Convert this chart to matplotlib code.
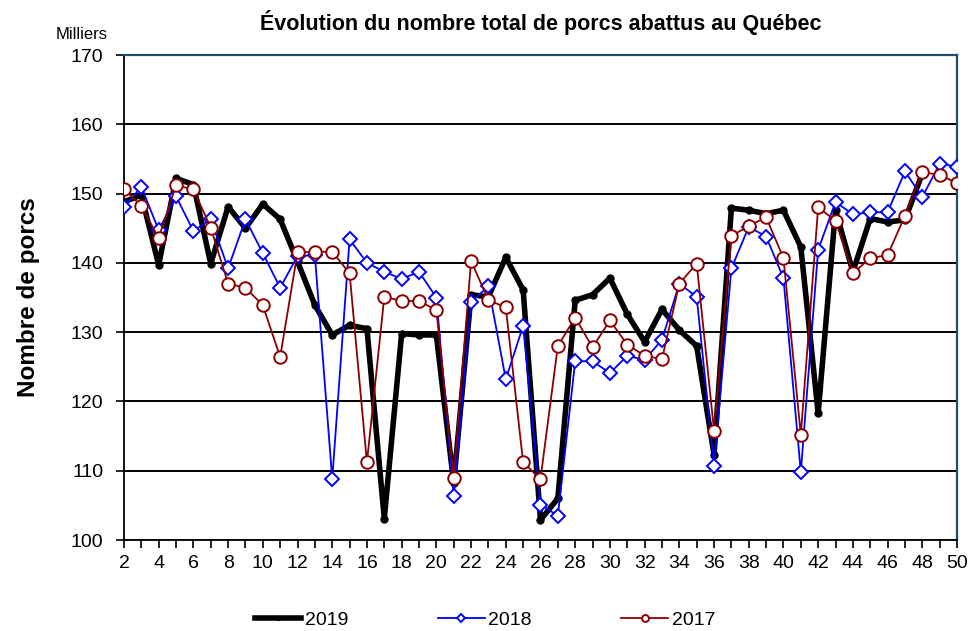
import numpy as np
import matplotlib.pyplot as plt

plt.rcParams['font.family'] = ['Liberation Sans', 'DejaVu Sans']

# semaines
sem = list(range(2, 51))

# 2019 (semaines 2 a 48)
v2019 = [148.8, 149.8, 139.7, 152.2, 151.3, 139.9, 148.1, 145.0, 148.5, 146.3,
         140.2, 133.9, 129.6, 131.0, 130.5, 103.1, 129.8, 129.6, 129.6, 108.2,
         135.4, 135.1, 140.8, 136.1, 102.9, 106.0, 134.6, 135.4, 137.8, 132.6,
         128.6, 133.3, 130.3, 128.0, 112.3, 147.9, 147.6, 147.1, 147.6, 142.3,
         118.3, 147.6, 138.7, 146.4, 145.9, 146.2, 152.9]

v2018 = [148.0, 151.0, 144.7, 149.6, 144.6, 146.3, 139.2, 146.3, 141.4, 136.4,
         141.0, 141.1, 108.8, 143.4, 140.0, 138.7, 137.7, 138.7, 135.0, 106.3,
         134.4, 136.6, 123.2, 130.9, 105.1, 103.5, 125.8, 125.8, 124.1, 126.6,
         126.0, 128.9, 137.0, 135.1, 110.7, 139.2, 145.2, 143.8, 137.8, 109.8,
         141.9, 148.8, 147.0, 147.3, 147.3, 153.2, 149.5, 154.3, 153.9]

v2017 = [150.7, 148.2, 143.6, 151.2, 150.6, 145.1, 137.0, 136.4, 133.9, 126.4,
         141.5, 141.6, 141.6, 138.5, 111.2, 135.1, 134.5, 134.5, 133.2, 109.0,
         140.3, 134.6, 133.6, 111.2, 108.8, 128.0, 132.1, 127.8, 131.7, 128.2,
         126.6, 126.1, 137.0, 139.9, 115.8, 143.9, 145.3, 146.6, 140.7, 115.2,
         148.0, 146.1, 138.5, 140.7, 141.1, 146.8, 153.1, 152.7, 151.5]

fig = plt.figure(figsize=(9.7, 6.31), dpi=100)
ax = fig.add_axes([0.1278, 0.1442, 0.8588, 0.7686])

ax.plot(sem[:len(v2019)], v2019, color='black', lw=4, marker='o', ms=5,
        label='2019', zorder=3)
ax.plot(sem, v2018, color='#0000ff', lw=1.3, marker='D', ms=7.5, mfc='white',
        mec='#0000ff', mew=1.4, label='2018', zorder=4)
ax.plot(sem, v2017, color='#8b0000', lw=1.3, marker='o', ms=9, mfc='white',
        mec='#8b0000', mew=1.4, label='2017', zorder=5)

ax.set_xlim(2, 50)
ax.set_ylim(100, 170)
ax.set_yticks(range(100, 171, 10))
ax.set_xticks(range(2, 51, 2))
ax.set_xticks(range(3, 50, 2), minor=True)
ax.tick_params(axis='both', which='both', direction='out', length=6, width=1.2,
               labelsize=14, color='black')
ax.tick_params(axis='x', which='major', pad=5)
ax.tick_params(axis='y', pad=9)
ax.yaxis.grid(True, color='black', lw=1.4)
ax.set_axisbelow(True)

for s in ['left', 'bottom']:
    ax.spines[s].set_color('black')
    ax.spines[s].set_linewidth(1.3)
for s in ['top', 'right']:
    ax.spines[s].set_color('#1f4e6e')
    ax.spines[s].set_linewidth(1.6)

fig.text(0.557, 0.965, 'Évolution du nombre total de porcs abattus au Québec',
         ha='center', va='center', fontsize=15.5, fontweight='bold')
fig.text(0.084, 0.945, 'Milliers', ha='center', va='center', fontsize=12)
ax.set_ylabel('Nombre de porcs', fontsize=17.5, fontweight='bold', labelpad=22)

fig.legend(loc='center', bbox_to_anchor=(0.5, 0.017), ncol=3, frameon=False,
           fontsize=14, handlelength=2.4, columnspacing=4.6, handletextpad=0.2,
           markerscale=0.55)

plt.savefig('out.png', dpi=100)
